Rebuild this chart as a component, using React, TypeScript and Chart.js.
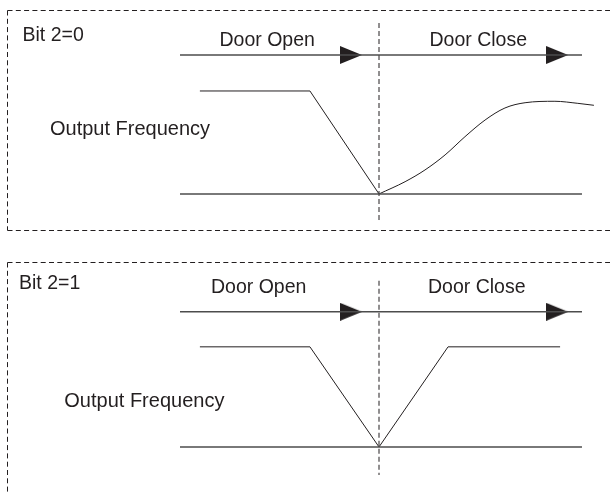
import React, { useEffect, useRef } from "react";
import { Chart, registerables } from "chart.js";

Chart.register(...registerables);

// ---- data (time in arbitrary units, door switch at t = 0; frequency in % of set point) ----
const timeSpan = [-10, 10.2];
const doorLevel = 135;
const arrowTimes = [-1.41, 8.95];
const markerTime = 0;
const markerFreq = [166, -28];
const openTimes = [-9, -3.47, 0];
const openFreq = [100, 100, 0];
const curveTimes = [0, 1.31, 2.31, 3.32, 4.32, 5.33, 6.33, 7.34, 8.84, 9.99, 10.8];
const curveFreq = [0, 11.9, 23.3, 37.9, 55.6, 71.8, 83.5, 88.6, 90.0, 88.0, 86.1];
const vTimes = [-9, -3.47, 0, 3.47, 9.1];
const vFreq = [100, 100, 0, 100, 100];
const panelTitles = ["Bit 2=0", "Bit 2=1"];
const stateLabels = ["Door Open", "Door Close"];
const freqLabel = "Output Frequency";

const INK = "#231f20";
const FONT = "19.5px 'Liberation Sans', Arial, sans-serif";
const FONT_FREQ = "20px 'Liberation Sans', Arial, sans-serif";

const pts = (xs: number[], ys: number[]) => xs.map((x, i) => ({ x, y: ys[i] }));

function makeArrow() {
  const c = document.createElement("canvas");
  c.width = 22;
  c.height = 18;
  const g = c.getContext("2d")!;
  g.fillStyle = INK;
  g.beginPath();
  g.moveTo(0, 0);
  g.lineTo(22, 9);
  g.lineTo(0, 18);
  g.closePath();
  g.fill();
  return c;
}

type PanelCfg = {
  height: number;
  padding: { left: number; right: number; top: number; bottom: number };
  frame: { top: number; bottom: number | null };
  title: [number, number];
  open: [number, number];
  close: [number, number];
  freq: [number, number];
  runTimes: number[];
  runFreq: number[];
  smooth: boolean;
};

const panels: PanelCfg[] = [
  {
    height: 240,
    padding: { left: 180, right: 32, top: 13.75, bottom: 9.95 },
    frame: { top: 10.5, bottom: 230.5 },
    title: [22.5, 40.5],
    open: [219.5, 46],
    close: [429.5, 46],
    freq: [50, 135],
    runTimes: openTimes,
    runFreq: openFreq,
    smooth: true,
  },
  {
    height: 252,
    padding: { left: 180, right: 32, top: 31.75, bottom: 3.95 },
    frame: { top: 22.5, bottom: null },
    title: [19, 49],
    open: [211, 52.5],
    close: [428, 52.5],
    freq: [64.3, 166.5],
    runTimes: vTimes,
    runFreq: vFreq,
    smooth: false,
  },
];

function Panel({ cfg, idx }: { cfg: PanelCfg; idx: number }) {
  const ref = useRef<HTMLCanvasElement | null>(null);
  useEffect(() => {
    if (!ref.current) return;
    const arrow = makeArrow();
    const lineBase = {
      type: "line" as const,
      pointRadius: 0,
      fill: false,
      clip: false as any,
      tension: 0,
    };
    const datasets: any[] = [
      {
        ...lineBase,
        label: "door",
        data: pts(timeSpan, [doorLevel, doorLevel]),
        borderColor: "#4d4d4d",
        borderWidth: 1.4,
      },
      {
        ...lineBase,
        label: "zero",
        data: pts(timeSpan, [0, 0]),
        borderColor: "#4d4d4d",
        borderWidth: 1.4,
      },
      {
        ...lineBase,
        label: "marker",
        data: pts([markerTime, markerTime], markerFreq),
        borderColor: INK,
        borderWidth: 1,
        borderDash: [5, 3],
      },
      {
        ...lineBase,
        label: "run",
        data: pts(cfg.runTimes, cfg.runFreq),
        borderColor: INK,
        borderWidth: 1,
      },
    ];
    if (cfg.smooth) {
      datasets.push({
        ...lineBase,
        label: "curve",
        data: pts(curveTimes, curveFreq),
        borderColor: INK,
        borderWidth: 1,
        cubicInterpolationMode: "monotone",
      });
    }
    datasets.push({
      type: "scatter",
      label: "arrows",
      data: pts(arrowTimes, arrowTimes.map(() => doorLevel)),
      pointStyle: arrow,
      pointRadius: 9,
      showLine: false,
      clip: false,
    });

    const decor = {
      id: "decor" + idx,
      afterDraw(chart: any) {
        const ctx = chart.ctx as CanvasRenderingContext2D;
        ctx.save();
        ctx.strokeStyle = INK;
        ctx.lineWidth = 1;
        ctx.setLineDash([5, 3.3]);
        ctx.beginPath();
        ctx.moveTo(7.5, cfg.frame.top);
        ctx.lineTo(610, cfg.frame.top);
        ctx.moveTo(7.5, cfg.frame.top);
        ctx.lineTo(7.5, cfg.frame.bottom ?? cfg.height);
        if (cfg.frame.bottom !== null) {
          ctx.moveTo(7.5, cfg.frame.bottom);
          ctx.lineTo(610, cfg.frame.bottom);
        }
        ctx.stroke();
        ctx.setLineDash([]);
        ctx.fillStyle = INK;
        ctx.font = FONT;
        ctx.textBaseline = "alphabetic";
        ctx.textAlign = "left";
        ctx.fillText(panelTitles[idx], cfg.title[0], cfg.title[1]);
        ctx.fillText(stateLabels[0], cfg.open[0], cfg.open[1]);
        ctx.fillText(stateLabels[1], cfg.close[0], cfg.close[1]);
        ctx.font = FONT_FREQ;
        ctx.fillText(freqLabel, cfg.freq[0], cfg.freq[1]);
        ctx.restore();
      },
    };

    const chart = new Chart(ref.current, {
      type: "line",
      data: { datasets },
      options: {
        animation: false,
        responsive: false,
        devicePixelRatio: 1,
        layout: { padding: cfg.padding },
        plugins: { legend: { display: false }, tooltip: { enabled: false }, title: { display: false } },
        events: [],
        scales: {
          x: { type: "linear", min: -10, max: 10, display: false },
          y: { type: "linear", min: -35, max: 175, display: false },
        },
      },
      plugins: [decor],
    } as any);
    return () => chart.destroy();
  }, [cfg, idx]);
  return (
    <canvas
      ref={ref}
      width={610}
      height={cfg.height}
      style={{ display: "block", width: 610, height: cfg.height }}
    />
  );
}

export default function App() {
  return (
    <div
      style={{
        position: "absolute",
        left: 0,
        top: 0,
        width: 610,
        height: 492,
        background: "#fff",
        overflow: "hidden",
      }}
    >
      {panels.map((p, i) => (
        <Panel key={i} cfg={p} idx={i} />
      ))}
    </div>
  );
}
